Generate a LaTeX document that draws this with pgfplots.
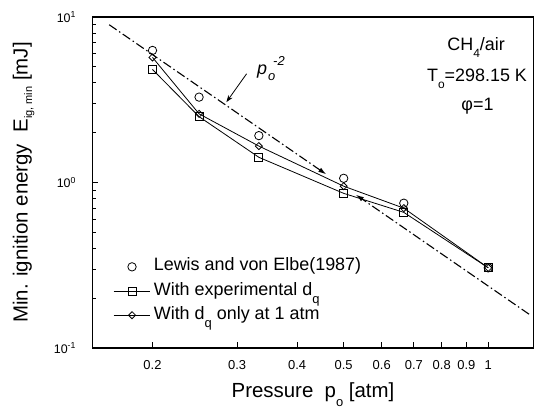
\documentclass[border=0pt]{standalone}
\usepackage{fontspec}
\setmainfont{Liberation Sans}
\usepackage{pgfplots}
\pgfplotsset{compat=1.18}
\usetikzlibrary{arrows.meta}
\newcommand\lowsub[3]{\raisebox{#1}[0pt][0pt]{\fontsize{#2}{#2}\selectfont #3}}
\pgfplotsset{
  dotlegend/.style={legend image code/.code={\draw[##1] plot coordinates {(0.65cm,0cm)};}},
  longlegend/.style={legend image code/.code={\draw[mark repeat=2,mark phase=2,##1] plot coordinates {(0cm,0cm) (0.65cm,0cm) (1.3cm,0cm)};}},
}
\begin{document}
\begin{tikzpicture}
\begin{axis}[
  scale only axis, width=441bp, height=331bp,
  xmode=log, ymode=log,
  xmin=0.15, xmax=1.242, ymin=0.1, ymax=10,
  axis line style={line width=1.2bp},
  xtick={0.2,0.3,0.4,0.5,0.6,0.7,0.8,0.9,1},
  xticklabels={0.2,0.3,0.4,0.5,0.6,0.7,0.8,0.9,1},
  minor xtick={},
  ytick={0.1,1,10},
  yticklabels={10\textsuperscript{-1},10\textsuperscript{0},10\textsuperscript{1}},
  tick align=inside, xtick pos=bottom, ytick pos=left,
  major tick length=6bp, minor tick length=4bp,
  tick style={line width=0.9bp, black},
  xticklabel style={font=\fontsize{13}{15}\selectfont, yshift=-9bp},
  yticklabel style={font=\fontsize{12.5}{14}\selectfont, xshift=-13bp},
  xlabel={Pressure\ \ p\lowsub{-9bp}{13}{o} [atm]},
  ylabel={Min. ignition energy\ \ E\lowsub{-4.5bp}{11}{ig, min} [mJ]},
  label style={font=\fontsize{20.5}{22}\selectfont},
  xlabel style={at={(axis description cs:0.5,-0.151)}, anchor=base},
  ylabel style={at={(axis description cs:-0.147,0.5)}, anchor=base},
  legend style={draw=none, fill=none, at={(axis description cs:0.0465,0.273)}, anchor=north west,
    font=\fontsize{18}{20}\selectfont, row sep=6.2bp, inner sep=0pt, column sep=2bp,
    nodes={text height=12bp, text depth=4bp, inner sep=1bp}},
  legend cell align=left,
  longlegend,
]
\addplot[only marks, mark=o, mark size=4.2bp, mark options={line width=0.8bp}, dotlegend]
  coordinates {(0.2,6.28) (0.25,3.28) (0.333,1.92) (0.5,1.06) (0.667,0.75) (1,0.305)};
\addlegendentry{Lewis and von Elbe(1987)}
\addplot[line width=0.8bp, mark=square, mark size=4bp, mark options={solid,line width=0.8bp}]
  coordinates {(0.2,4.82) (0.25,2.50) (0.333,1.42) (0.5,0.86) (0.667,0.66) (1,0.305)};
\addlegendentry{With experimental d\lowsub{-8bp}{13}{q}}
\addplot[line width=0.8bp, mark=square, mark size=2.5bp, mark options={solid,line width=0.8bp,rotate=45}]
  coordinates {(0.2,5.7) (0.25,2.60) (0.333,1.66) (0.5,0.95) (0.667,0.70) (1,0.305)};
\addlegendentry{With d\lowsub{-8bp}{13}{q} only at 1 atm}
\addplot[forget plot, line width=1.1bp, dash pattern=on 9bp off 3bp on 1.5bp off 3bp, -{Latex[length=8bp,width=5bp]}]
  coordinates {(0.1625,8.98) (0.46,1.12)};
\addplot[forget plot, line width=1.1bp, dash pattern=on 9bp off 3bp on 1.5bp off 3bp, -{Latex[length=8bp,width=5bp]}]
  coordinates {(1.216,0.160) (0.53,0.844)};
\draw[-{Stealth[length=7bp,width=5bp]}, line width=0.8bp] (axis cs:0.314,4.54) -- (axis cs:0.285,3.06);
\node[anchor=base west, inner sep=0pt, font=\fontsize{18}{20}\selectfont\itshape] at (axis cs:0.3298,4.524)
  {p\kern1bp\lowsub{-6bp}{13}{o}\kern-2bp\raisebox{9bp}{\fontsize{13}{13}\selectfont -2}};
\node[anchor=base, font=\fontsize{18}{20}\selectfont] at (rel axis cs:0.870,0.900) {CH\lowsub{-7bp}{12}{4}/air};
\node[anchor=base, font=\fontsize{18}{20}\selectfont] at (rel axis cs:0.872,0.8045) {T\lowsub{-7bp}{12}{o}=298.15 K};
\node[anchor=base, font=\fontsize{18}{20}\selectfont] at (rel axis cs:0.873,0.719) {φ=1};
\end{axis}
\pgfresetboundingbox
\path[use as bounding box] ([shift={(-92.5bp,-67bp)}]current axis.south west) rectangle ++(537bp,415bp);
\end{tikzpicture}
\end{document}
